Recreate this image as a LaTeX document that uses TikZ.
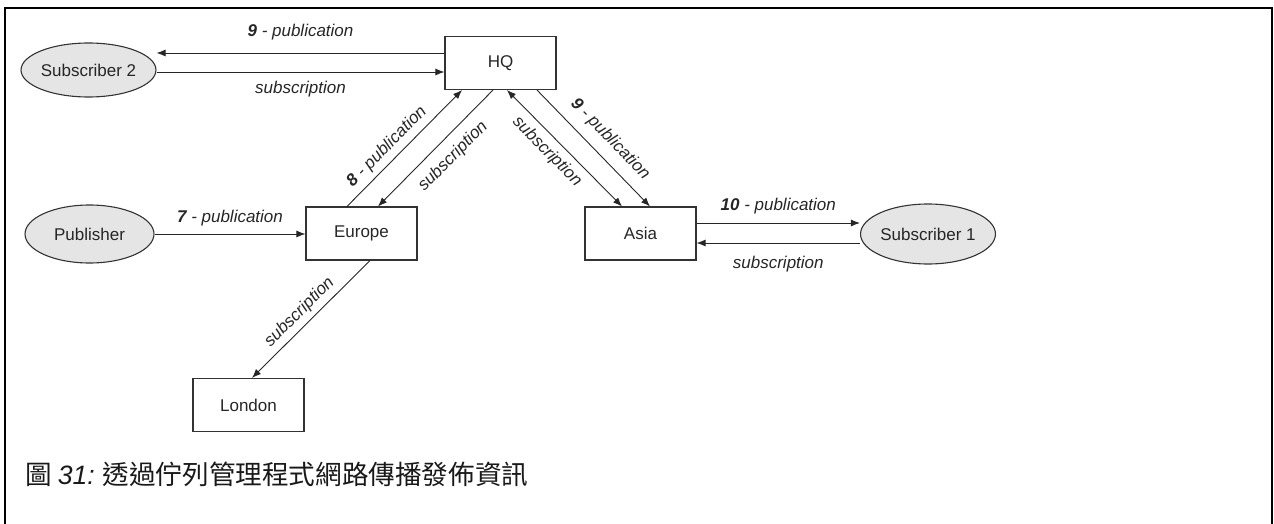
\documentclass[tikz,border=0pt]{standalone}
\usepackage{fontspec}
\setmainfont{Liberation Sans}
\newfontfamily\cjkfont{Noto Sans CJK TC}
\usetikzlibrary{shapes.geometric,arrows.meta}
\begin{document}
\begin{tikzpicture}[x=1pt,y=-1pt,
  box/.style={draw=black!80, line width=1.1pt, minimum width=111pt, minimum height=53pt, inner sep=0pt, font=\fontsize{17}{20}\selectfont, text=black!85},
  oval/.style={ellipse, draw=black!80, line width=1.1pt, fill=black!10, inner sep=0pt, font=\fontsize{17}{20}\selectfont, text=black!85},
  tip/.style={},
  conn/.style={draw=black!85, line width=0.9pt, -{Latex[length=9pt,width=7pt]}},
  lbl/.style={font=\fontsize{17}{20}\selectfont\itshape, text=black!85, inner sep=0pt}
]
\useasboundingbox (0,0) rectangle (1274,524);
\draw[line width=2.5pt] (5,524) -- (5,8) -- (1272,8) -- (1272,524);

\node[oval, minimum width=127pt, minimum height=54pt] (sub2) at (88.5,70) {Subscriber 2};
\node[box] (hq) at (500.5,63) {HQ};
\node[oval, minimum width=129pt, minimum height=58pt] (pub) at (89.5,234) {Publisher};
\node[box] (eu) at (361.5,233.5) {Europe};
\node[box] (asia) at (640.5,233.5) {Asia};
\node[oval, minimum width=130pt, minimum height=60pt] (sub1) at (928,234) {Subscriber 1};
\node[box] (lon) at (248.5,405) {London};

\draw[conn] ([yshift=10pt]hq.west) -- node[lbl, above=12.5pt]{\textbf{9} - publication} ([yshift=17pt]sub2.east);
\draw[conn] ([yshift=-2pt]sub2.east) -- node[lbl, below=8.5pt]{subscription} ([yshift=-9pt]hq.west);
\draw[conn] (pub.east) -- node[lbl, above=8pt]{\textbf{7} - publication} (eu.west |- pub.east);
\draw[conn] ([xshift=-14.5pt]eu.north) -- node[lbl, sloped, pos=0.43, above=5pt]{\textbf{8} - publication} ([xshift=-38.5pt]hq.south);
\draw[conn] ([xshift=-7.5pt]hq.south) -- node[lbl, sloped, pos=0.46, below=10pt]{subscription} ([xshift=16.5pt]eu.north);
\draw[conn, {Latex[length=9pt,width=7pt]}-{Latex[length=9pt,width=7pt]}] ([xshift=6.5pt]hq.south) -- node[lbl, sloped, pos=0.44, below=6.5pt]{subscription} ([xshift=-18.5pt]asia.north);
\draw[conn] ([xshift=36.5pt]hq.south) -- node[lbl, sloped, pos=0.53, above=10pt]{\textbf{9} - publication} ([xshift=9.5pt]asia.north);
\draw[conn] ([yshift=10.5pt]asia.east) -- node[lbl, above=8.5pt]{\textbf{10} - publication} ([yshift=11pt]sub1.west);
\draw[conn] ([yshift=-9pt]sub1.west) -- node[lbl, below=12.5pt]{subscription} ([yshift=-9.5pt]asia.east);
\draw[conn] ([xshift=8.5pt]eu.south) -- node[lbl, sloped, pos=0.52, above=4.5pt]{subscription} ([xshift=3.5pt]lon.north);

\node[anchor=base west, inner sep=0pt, font=\fontsize{26.6}{30}\selectfont, text=black!90] (cap) at (25,484) {\cjkfont 圖 {\normalfont\itshape 31:} 透過佇列管理程式網路傳播發佈資訊};
\end{tikzpicture}
\end{document}
